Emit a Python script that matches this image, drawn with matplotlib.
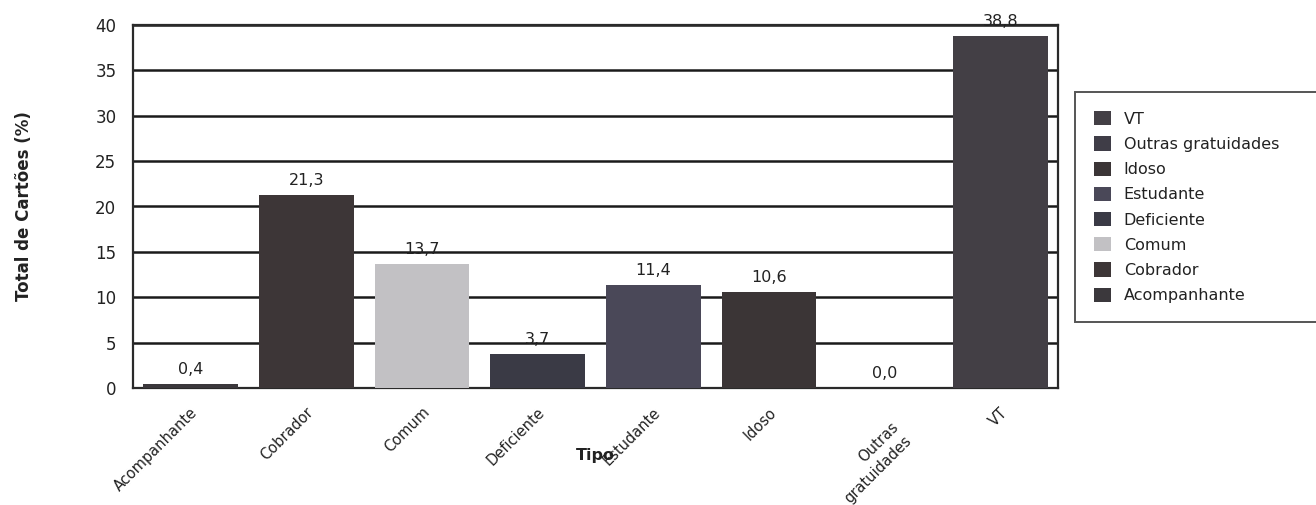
import matplotlib
matplotlib.use("Agg")
import matplotlib.pyplot as plt
from matplotlib.patches import Patch
from matplotlib.transforms import ScaledTranslation

plt.rcParams['font.family'] = ['DejaVu Sans']

# data
tipos = ['Acompanhante', 'Cobrador', 'Comum', 'Deficiente', 'Estudante',
         'Idoso', 'Outras\ngratuidades', 'VT']
valores = [0.4, 21.3, 13.7, 3.7, 11.4, 10.6, 0.0, 38.8]
rotulos = ['0,4', '21,3', '13,7', '3,7', '11,4', '10,6', '0,0', '38,8']
cores = ['#3b383c', '#3d3637', '#c2c1c4', '#3a3a45', '#4a4858',
         '#3b3536', '#3f3d47', '#433f45']

fig = plt.figure(figsize=(13.16, 5.05), dpi=100)
ax = fig.add_axes([133 / 1316, 1 - 388 / 505, (1058 - 133) / 1316, (388 - 25) / 505])

x = list(range(len(tipos)))
ax.bar(x, valores, width=0.82, color=cores, edgecolor='none', zorder=3)

for xi, v, r in zip(x, valores, rotulos):
    ax.annotate(r, (xi, v), xytext=(0, 5), textcoords='offset points',
                ha='center', va='bottom', fontsize=11.5, color='#222222')

ax.set_xlim(-0.5, len(tipos) - 0.5)
ax.set_ylim(0, 40)
ax.set_yticks(range(0, 45, 5))
ax.yaxis.grid(True, color='#1a1a1a', linewidth=1.8, zorder=0)
ax.set_axisbelow(True)
for s in ax.spines.values():
    s.set_color('#2a2a2a')
    s.set_linewidth(1.6)

ax.set_xticks(x)
ax.set_xticklabels(tipos, rotation=45, ha='right', va='top',
                   fontsize=10.5, linespacing=1.0, color='#222222')
ax.tick_params(axis='x', length=0, pad=12)
ax.tick_params(axis='y', length=0, pad=12, labelsize=12, labelcolor='#222222')

# nudge the rotated labels like the scanned original
for i, lab in enumerate(ax.get_xticklabels()):
    if i == 6:
        lab.set_linespacing(1.35)
        dx, dy = 30, -15
    else:
        dx, dy = 10, 0
    lab.set_transform(lab.get_transform() + ScaledTranslation(dx / 100, dy / 100, fig.dpi_scale_trans))

ax.set_ylabel('Total de Cartões (%)', fontsize=12, fontweight='bold', labelpad=45, color='#222222')
ax.set_xlabel('Tipo', fontsize=11.5, fontweight='bold', color='#222222')
ax.xaxis.set_label_coords(0.5, -(448 - 388) / 363)

# legend in reverse order, like the original; box runs past the right edge
handles = [Patch(facecolor=c, edgecolor='none', label=t.replace('\n', ' '))
           for t, c in zip(tipos, cores)][::-1]
leg_top = 1 - 92 / 505
leg_h = (323 - 92) / 505
leg = fig.legend(handles=handles, loc='upper left', mode='expand',
                 bbox_to_anchor=(1075 / 1316, leg_top - leg_h, 0.3, leg_h),
                 frameon=True, fancybox=False, fontsize=11.5,
                 handlelength=1.05, handleheight=1.0, handletextpad=0.8,
                 labelspacing=0.6, borderpad=1.2, borderaxespad=0)
leg.get_frame().set_edgecolor('#2a2a2a')
leg.get_frame().set_linewidth(1.4)
for t in leg.get_texts():
    t.set_color('#222222')

fig.savefig('out.png', dpi=100)
